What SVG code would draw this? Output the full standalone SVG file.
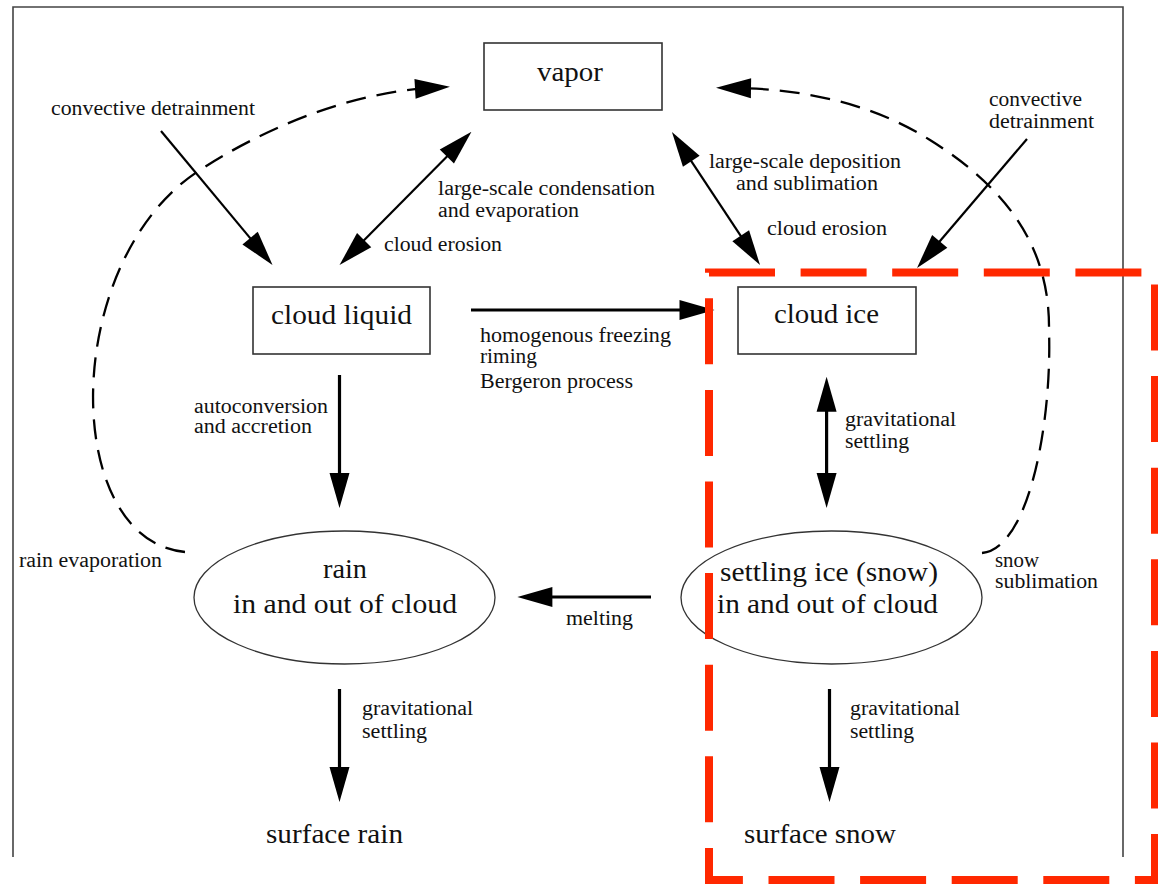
<svg xmlns="http://www.w3.org/2000/svg" width="1158" height="884" viewBox="0 0 1158 884" font-family="'Liberation Serif', 'DejaVu Serif', 'Times New Roman', serif">
<style>
text{font-family:'Liberation Serif','DejaVu Serif','Times New Roman',serif;fill:#111}
.s{font-size:20px}
.L{font-size:27px}
.box{fill:#fff;stroke:#333;stroke-width:1.6}
.ell{fill:none;stroke:#333;stroke-width:1.3}
.a2{fill:none;stroke:#000;stroke-width:2.2}
.a3{fill:none;stroke:#000;stroke-width:3.2}
.dash{fill:none;stroke:#000;stroke-width:2.3;stroke-dasharray:20 11}
</style>
<defs>
<marker id="ah" markerUnits="userSpaceOnUse" markerWidth="36" markerHeight="22" viewBox="0 0 36 22" refX="16" refY="11" orient="auto-start-reverse">
<path d="M1,1 L36,11 L1,21 Z" fill="#000"/>
</marker>
</defs>
<rect width="1158" height="884" fill="#fff"/>
<path d="M13,857 V7 H1123 V857" fill="none" stroke="#444" stroke-width="1.6"/>

<g id="vapor"><rect class="box" x="484" y="43" width="178" height="67"/><text class="L" x="537" y="81" textLength="66" lengthAdjust="spacingAndGlyphs">vapor</text></g>
<g id="cloud-liquid"><rect class="box" x="253" y="287" width="177" height="67"/><text class="L" x="271" y="324" textLength="141" lengthAdjust="spacingAndGlyphs">cloud liquid</text></g>
<g id="cloud-ice"><rect class="box" x="738" y="287" width="178" height="67"/><text class="L" x="774" y="323" textLength="105" lengthAdjust="spacingAndGlyphs">cloud ice</text></g>
<g id="rain"><ellipse class="ell" cx="344.5" cy="597.5" rx="150.5" ry="66.5"/><text class="L" x="323" y="578" textLength="44" lengthAdjust="spacingAndGlyphs">rain</text><text class="L" x="233" y="613" textLength="224" lengthAdjust="spacingAndGlyphs">in and out of cloud</text></g>
<g id="snow"><ellipse class="ell" cx="831.5" cy="597.5" rx="150.5" ry="66.5"/><text class="L" x="720" y="581" textLength="218" lengthAdjust="spacingAndGlyphs">settling ice (snow)</text><text class="L" x="717" y="613" textLength="221" lengthAdjust="spacingAndGlyphs">in and out of cloud</text></g>
<g id="surface-rain"><text class="L" x="266" y="843" textLength="137" lengthAdjust="spacingAndGlyphs">surface rain</text></g>
<g id="surface-snow"><text class="L" x="744" y="843" textLength="152" lengthAdjust="spacingAndGlyphs">surface snow</text></g>

<g id="connectors">
<path class="a2" d="M161,131 L259.7,249.6" marker-end="url(#ah)"/>
<path class="a2" d="M353.6,250.8 L457.4,145.9" marker-start="url(#ah)" marker-end="url(#ah)"/>
<path class="a3" d="M471,310 H694.5" marker-end="url(#ah)"/>
<path class="a2" d="M683,148.7 L749,248.3" marker-start="url(#ah)" marker-end="url(#ah)"/>
<path class="a2" d="M1027,139 L930,252.8" marker-end="url(#ah)"/>
<path class="a3" d="M339.5,375 V488" marker-end="url(#ah)"/>
<path class="a3" d="M826.6,396.7 V488" marker-start="url(#ah)" marker-end="url(#ah)"/>
<path class="a3" d="M651,597 H537.4" marker-end="url(#ah)"/>
<path class="a3" d="M339.5,689 V782" marker-end="url(#ah)"/>
<path class="a3" d="M829.5,689 V782" marker-end="url(#ah)"/>
<path class="dash" d="M185,552 C60,540 60,260 200,170 C260,131 345,93 430,88" marker-end="url(#ah)"/>
<path class="dash" d="M982,553 C1030,548 1052,420 1049,330 C1050,250 1010,190 930,140 C870,102 800,89 736,88" marker-end="url(#ah)"/>
</g>

<g id="labels">
<text class="s" x="51" y="115" textLength="204" lengthAdjust="spacingAndGlyphs">convective detrainment</text>
<text class="s" x="438" y="195" textLength="217" lengthAdjust="spacingAndGlyphs">large-scale condensation</text>
<text class="s" x="438" y="217" textLength="141" lengthAdjust="spacingAndGlyphs">and evaporation</text>
<text class="s" x="384" y="251" textLength="118" lengthAdjust="spacingAndGlyphs">cloud erosion</text>
<text class="s" x="709" y="168" textLength="192" lengthAdjust="spacingAndGlyphs">large-scale deposition</text>
<text class="s" x="736" y="190" textLength="142" lengthAdjust="spacingAndGlyphs">and sublimation</text>
<text class="s" x="767" y="235" textLength="120" lengthAdjust="spacingAndGlyphs">cloud erosion</text>
<text class="s" x="989" y="106" textLength="93" lengthAdjust="spacingAndGlyphs">convective</text>
<text class="s" x="989" y="128" textLength="105" lengthAdjust="spacingAndGlyphs">detrainment</text>
<text class="s" x="480" y="342" textLength="191" lengthAdjust="spacingAndGlyphs">homogenous freezing</text>
<text class="s" x="480" y="363" textLength="57" lengthAdjust="spacingAndGlyphs">riming</text>
<text class="s" x="480" y="388" textLength="153" lengthAdjust="spacingAndGlyphs">Bergeron process</text>
<text class="s" x="194" y="413" textLength="134" lengthAdjust="spacingAndGlyphs">autoconversion</text>
<text class="s" x="194" y="433" textLength="118" lengthAdjust="spacingAndGlyphs">and accretion</text>
<text class="s" x="19" y="567" textLength="143" lengthAdjust="spacingAndGlyphs">rain evaporation</text>
<text class="s" x="845" y="426" textLength="111" lengthAdjust="spacingAndGlyphs">gravitational</text>
<text class="s" x="845" y="448" textLength="64" lengthAdjust="spacingAndGlyphs">settling</text>
<text class="s" x="995" y="567" textLength="44" lengthAdjust="spacingAndGlyphs">snow</text>
<text class="s" x="995" y="588" textLength="103" lengthAdjust="spacingAndGlyphs">sublimation</text>
<text class="s" x="566" y="625" textLength="67" lengthAdjust="spacingAndGlyphs">melting</text>
<text class="s" x="362" y="715" textLength="111" lengthAdjust="spacingAndGlyphs">gravitational</text>
<text class="s" x="362" y="738" textLength="65" lengthAdjust="spacingAndGlyphs">settling</text>
<text class="s" x="850" y="715" textLength="110" lengthAdjust="spacingAndGlyphs">gravitational</text>
<text class="s" x="850" y="738" textLength="64" lengthAdjust="spacingAndGlyphs">settling</text>
</g>

<path id="highlight" d="M709,272.5 H1155 V880 H709 Z" fill="none" stroke="#ff2800" stroke-width="8" stroke-dasharray="66 25.6"/>
</svg>
